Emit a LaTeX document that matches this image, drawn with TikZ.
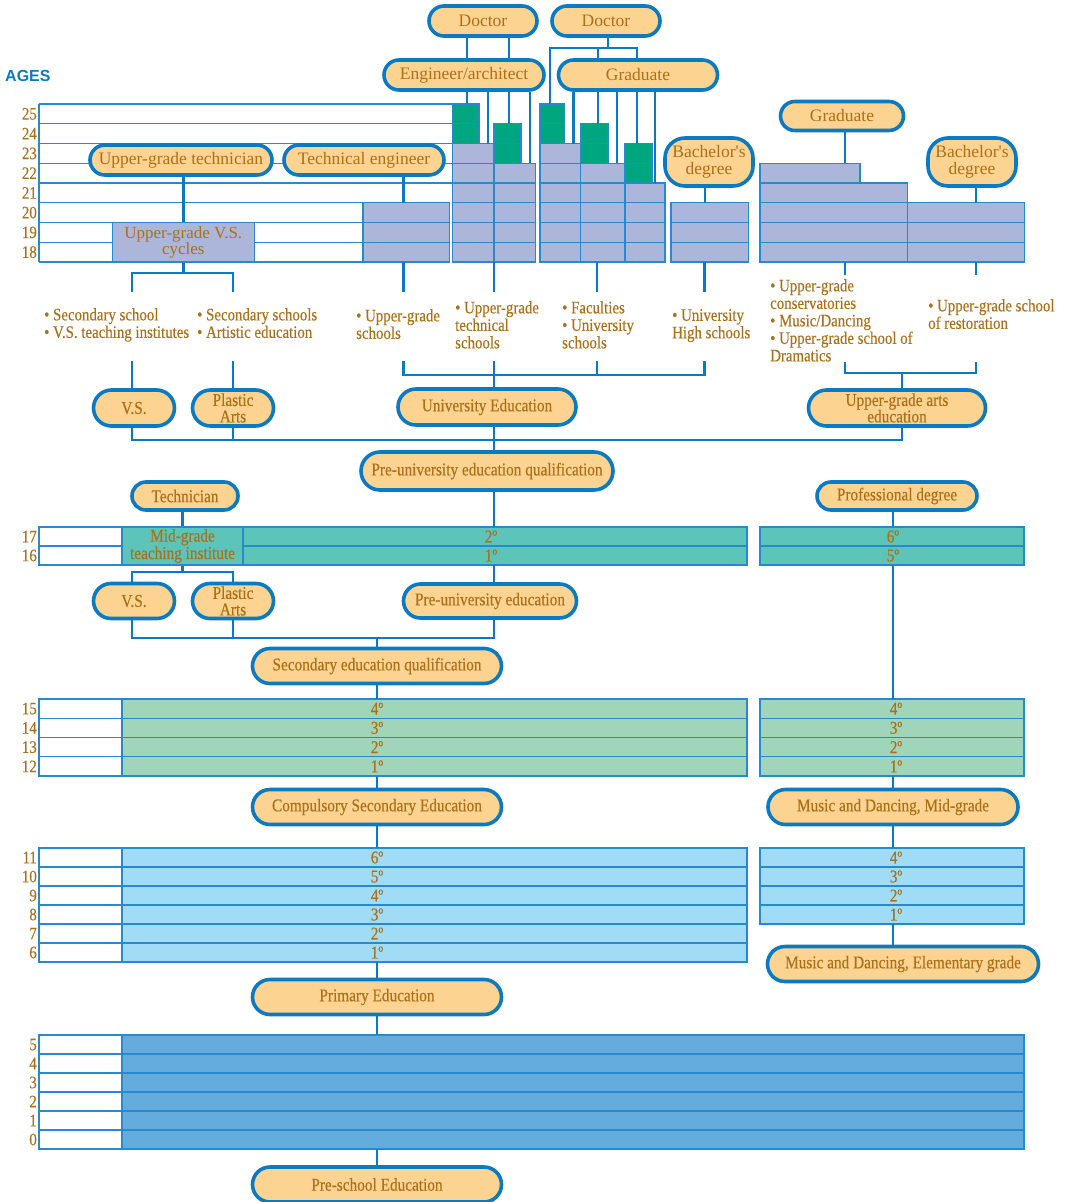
\documentclass[tikz,border=0pt]{standalone}
\usepackage{fontspec}
\setmainfont{Liberation Serif}
\setsansfont{Liberation Sans}
\newfontfamily\condf[FakeStretch=0.85, FakeBold=0.3]{Liberation Serif}
\usetikzlibrary{shapes.misc}

\definecolor{lineblue}{RGB}{10,122,194}
\definecolor{cellblue}{RGB}{40,138,206}
\definecolor{pillfill}{RGB}{253,211,146}
\definecolor{txtbrown}{RGB}{172,112,24}
\definecolor{lavfill}{RGB}{171,182,218}
\definecolor{greenfill}{RGB}{0,166,128}
\definecolor{tealfill}{RGB}{92,196,185}
\definecolor{mintfill}{RGB}{160,213,186}
\definecolor{skyfill}{RGB}{161,220,247}
\definecolor{midbluefill}{RGB}{100,172,222}

\tikzset{
  pill/.style={rounded rectangle, draw=lineblue, line width=3.6pt, fill=pillfill,
    text=txtbrown, inner sep=0pt, align=center,
    font=\condf\fontsize{18}{16.5}\selectfont},
  toppill/.style={pill, font=\fontsize{17.5}{17}\selectfont},
  degbox/.style={rectangle, rounded corners=20pt, draw=lineblue, line width=3.6pt,
    fill=pillfill, text=txtbrown, inner sep=0pt, align=center,
    minimum width=88pt, minimum height=48pt, font=\fontsize{17.5}{17}\selectfont},
  cellline/.style={draw=cellblue, line width=1.2pt},
  cellbox/.style={cellline, text=txtbrown, inner sep=0pt, align=center},
  conn/.style={draw=lineblue, line width=2.4pt},
  agelbl/.style={text=txtbrown, anchor=east, inner sep=0pt,
    font=\condf\fontsize{17.5}{17.5}\selectfont},
  yearlbl/.style={text=txtbrown, inner sep=0pt, font=\condf\fontsize{18}{18}\selectfont},
  note/.style={text=txtbrown, anchor=north west, align=left, inner sep=0pt,
    font=\condf\fontsize{17.5}{17.5}\selectfont}
}

\newcommand\cellstack[6]{%
  \foreach \k in {1,...,#4}
    \draw[cellline, fill=#6] (#1,{#3+(\k-1)*#5}) rectangle (#2,{#3+\k*#5});}

\begin{document}
\begin{tikzpicture}[x=1pt, y=-1pt]
  \useasboundingbox (0,0) rectangle (1070,1202);

  \node[text=lineblue, anchor=west, inner sep=0pt,
    font=\sffamily\bfseries\fontsize{16}{16}\selectfont] (ages) at (5,76) {AGES};

  % ages 25 to 18
  \foreach \a [count=\i from 0] in {25,24,...,18}
    \node[agelbl] (age\a) at (37,{104+(\i+0.5)*19.75}) {\a};
  \foreach \i in {0,...,4}
    \draw[cellline] (39,{104+\i*19.75}) -- (452.7,{104+\i*19.75});
  \foreach \i in {5,...,8}
    \draw[cellline] (39,{104+\i*19.75}) -- (363,{104+\i*19.75});
  \draw[cellline] (39,104) -- (39,262);

  \cellstack{363}{449.3}{202.75}{3}{19.75}{lavfill}
  \cellstack{452.7}{494}{143.5}{6}{19.75}{lavfill}
  \cellstack{452.7}{479}{104}{2}{19.75}{greenfill}
  \cellstack{494}{535.3}{163.25}{5}{19.75}{lavfill}
  \cellstack{494}{521}{123.75}{2}{19.75}{greenfill}
  \cellstack{540}{580.7}{143.5}{6}{19.75}{lavfill}
  \cellstack{540}{564.3}{104}{2}{19.75}{greenfill}
  \cellstack{580.7}{625}{163.25}{5}{19.75}{lavfill}
  \cellstack{581}{608}{123.75}{2}{19.75}{greenfill}
  \cellstack{625}{665}{183}{4}{19.75}{lavfill}
  \cellstack{625}{652}{143.5}{2}{19.75}{greenfill}
  \cellstack{671}{748.3}{202.75}{3}{19.75}{lavfill}
  \cellstack{760}{860}{163.25}{1}{19.75}{lavfill}
  \cellstack{760}{907.7}{183}{4}{19.75}{lavfill}
  \cellstack{907.7}{1024.3}{202.75}{3}{19.75}{lavfill}

  \node[cellbox, fill=lavfill, minimum width=142pt, minimum height=39.5pt,
    font=\fontsize{17}{16}\selectfont] (vscyc) at (183.3,242.25) {Upper-grade V.S.\\cycles};

  % ages 17 and 16
  \foreach \a/\i in {17/0,16/1}
    \node[agelbl] (age\a) at (37,{527+(\i+0.5)*19}) {\a};
  \cellstack{39}{122}{527}{2}{19}{white}
  \cellstack{243}{747}{527}{2}{19}{tealfill}
  \cellstack{760}{1024}{527}{2}{19}{tealfill}
  \node[cellbox, fill=tealfill, minimum width=121pt, minimum height=38pt,
    font=\condf\fontsize{18}{15.5}\selectfont] (midg) at (182.5,546) {Mid-grade\\teaching institute};
  \foreach \yr/\i in {2/0,1/1}
    \node[yearlbl] (bl\yr) at (491,{527+(\i+0.5)*19}) {\yr{}º};
  \foreach \yr/\i in {6/0,5/1}
    \node[yearlbl] (br\yr) at (893,{527+(\i+0.5)*19}) {\yr{}º};

  % ages 15 to 12
  \foreach \a [count=\i from 0] in {15,14,13,12}
    \node[agelbl] (age\a) at (37,{699+(\i+0.5)*19.25}) {\a};
  \cellstack{39}{122}{699}{4}{19.25}{white}
  \cellstack{122}{747}{699}{4}{19.25}{mintfill}
  \cellstack{760}{1024}{699}{4}{19.25}{mintfill}
  \foreach \yr [count=\i from 0] in {4,3,2,1}{
    \node[yearlbl] (cl\yr) at (377,{699+(\i+0.5)*19.25}) {\yr{}º};
    \node[yearlbl] (cr\yr) at (896,{699+(\i+0.5)*19.25}) {\yr{}º};
  }

  % ages 11 to 6
  \foreach \a [count=\i from 0] in {11,10,...,6}
    \node[agelbl] (age\a) at (37,{848+(\i+0.5)*19}) {\a};
  \cellstack{39}{122}{848}{6}{19}{white}
  \cellstack{122}{747}{848}{6}{19}{skyfill}
  \cellstack{760}{1024}{848}{4}{19}{skyfill}
  \foreach \yr [count=\i from 0] in {6,5,4,3,2,1}
    \node[yearlbl] (dl\yr) at (377,{848+(\i+0.5)*19}) {\yr{}º};
  \foreach \yr [count=\i from 0] in {4,3,2,1}
    \node[yearlbl] (dr\yr) at (896,{848+(\i+0.5)*19}) {\yr{}º};

  % ages 5 to 0
  \foreach \a [count=\i from 0] in {5,4,...,0}
    \node[agelbl] (age\a) at (37,{1035+(\i+0.5)*19}) {\a};
  \cellstack{39}{122}{1035}{6}{19}{white}
  \cellstack{122}{1024}{1035}{6}{19}{midbluefill}

  % degrees
  \node[toppill, minimum width=108pt, minimum height=30pt] (doc1) at (483,21) {Doctor};
  \node[toppill, minimum width=108pt, minimum height=30pt] (doc2) at (606,21) {Doctor};
  \node[toppill, minimum width=160pt, minimum height=30pt] (engarch) at (464,75) {Engineer/architect};
  \node[toppill, minimum width=159pt, minimum height=30pt] (gradtop) at (638,75) {Graduate};
  \node[toppill, minimum width=182pt, minimum height=30pt] (ugtech) at (181,160) {Upper-grade technician};
  \node[toppill, minimum width=160pt, minimum height=30pt] (techeng) at (364,160) {Technical engineer};
  \node[degbox] (bach1) at (709,162) {Bachelor\textquotesingle s\\degree};
  \node[toppill, minimum width=123pt, minimum height=29pt] (gradart) at (842,116) {Graduate};
  \node[degbox] (bach2) at (972,162) {Bachelor\textquotesingle s\\degree};

  % schools
  \node[note] (n1) at (44,308) {• Secondary school\\• V.S. teaching institutes};
  \node[note] (n2) at (197,308) {• Secondary schools\\• Artistic education};
  \node[note] (n3) at (356,309) {• Upper-grade\\schools};
  \node[note] (n4) at (455,301) {• Upper-grade\\technical\\schools};
  \node[note] (n5) at (562,301) {• Faculties\\• University\\schools};
  \node[note] (n6) at (672,309) {• University\\High schools};
  \node[note] (n7) at (770,279) {• Upper-grade\\conservatories\\• Music/Dancing\\• Upper-grade school of\\Dramatics};
  \node[note] (n8) at (928,299) {• Upper-grade school\\of restoration};

  % stages
  \node[pill, minimum width=81pt, minimum height=36pt] (vs1) at (134,408) {V.S.};
  \node[pill, minimum width=81pt, minimum height=36pt] (pa1) at (233,408) {Plastic\\Arts};
  \node[pill, minimum width=178pt, minimum height=36pt] (unied) at (487,407) {University Education};
  \node[pill, minimum width=177pt, minimum height=36pt] (artsed) at (897,408) {Upper-grade arts\\education};
  \node[pill, minimum width=252pt, minimum height=38pt] (puq) at (487,471)
    {\makebox[0pt]{Pre-university education qualification}};
  \node[pill, minimum width=106pt, minimum height=28pt] (tech) at (185,496) {Technician};
  \node[pill, minimum width=160pt, minimum height=28pt] (profdeg) at (897,496) {Professional degree};
  \node[pill, minimum width=81pt, minimum height=35pt] (vs2) at (134,601) {V.S.};
  \node[pill, minimum width=81pt, minimum height=35pt] (pa2) at (233,601) {Plastic\\Arts};
  \node[pill, minimum width=173pt, minimum height=34pt] (pue) at (490,601) {Pre-university education};
  \node[pill, minimum width=249pt, minimum height=35pt] (seq) at (377,666) {Secondary education qualification};
  \node[pill, minimum width=249pt, minimum height=35pt] (cse) at (377,807) {Compulsory Secondary Education};
  \node[pill, minimum width=250pt, minimum height=35pt] (mdmid) at (893,807) {Music and Dancing, Mid-grade};
  \node[pill, minimum width=271pt, minimum height=35pt] (mdel) at (903,964)
    {\makebox[0pt]{Music and Dancing, Elementary grade}};
  \node[pill, minimum width=249pt, minimum height=35pt] (prim) at (377,997) {Primary Education};
  \node[pill, minimum width=249pt, minimum height=35pt] (presch) at (377,1184.5) {Pre-school Education};

  % connectors, top
  \coordinate (gA) at (466.7,104);
  \coordinate (lA) at (487.7,143.5);
  \coordinate (gB) at (508.7,123.75);
  \coordinate (lB) at (530,163.25);
  \coordinate (gC) at (550,104);
  \coordinate (lC) at (573.3,143.5);
  \coordinate (gD) at (597.7,123.75);
  \coordinate (lD) at (616.7,163.25);
  \coordinate (gE) at (636.7,143.5);
  \coordinate (lE) at (655,183);
  \coordinate (d2) at (608,48);

  \draw[conn] (doc1.south -| gA) -- (engarch.north -| gA);
  \draw[conn] (doc1.south -| gB) -- (engarch.north -| gB);
  \draw[conn] (doc2.south -| d2) -- (d2);
  \draw[conn] (gC) -- (gC |- d2) -- (gE |- d2) -- (gradtop.north -| gE);
  \draw[conn] (gD |- d2) -- (gradtop.north -| gD);
  \foreach \c in {gA,lA,gB,lB}
    \draw[conn] (engarch.south -| \c) -- (\c);
  \foreach \c in {lC,gD,lD,gE,lE}
    \draw[conn] (gradtop.south -| \c) -- (\c);

  \coordinate (te) at (403.3,202.75);
  \coordinate (b1) at (705,202.75);
  \coordinate (ga) at (845,163.25);
  \coordinate (b2) at (975.7,202.75);
  \draw[conn] (techeng.south -| te) -- (te);
  \draw[conn] (bach1.south -| b1) -- (b1);
  \draw[conn] (gradart.south -| ga) -- (ga);
  \draw[conn] (bach2.south -| b2) -- (b2);
  \draw[conn] (ugtech.south -| vscyc.north) -- (vscyc.north);

  % connectors round the schools
  \coordinate (bot) at (0,262);
  \foreach \n/\x in {sa/132,sb/233,sc/403.3,sd/494,se/596.7,sf/704.3}{
    \coordinate (\n1) at (\x,292);
    \coordinate (\n2) at (\x,361);
  }
  \coordinate (vsf) at (183.3,273);
  \draw[conn] (vscyc.south) -- (vsf);
  \draw[conn] (sa1) -- (sa1 |- vsf) -- (sb1 |- vsf) -- (sb1);
  \draw[conn] (sa2) -- (vs1.north -| sa2);
  \draw[conn] (sb2) -- (pa1.north -| sb2);

  \coordinate (ub) at (494,375);
  \foreach \n in {sc,sd,se,sf}
    \draw[conn] (\n1 |- bot) -- (\n1);
  \draw[conn] (sc2) -- (sc2 |- ub) -- (sf2 |- ub) -- (sf2);
  \draw[conn] (se2) -- (se2 |- ub);
  \draw[conn] (sd2) -- (unied.north -| sd2);

  \coordinate (ar1) at (845,275);
  \coordinate (ar2) at (975.7,275);
  \coordinate (ar3) at (845,362);
  \coordinate (ar4) at (975.7,362);
  \coordinate (af) at (902,373);
  \draw[conn] (ar1 |- bot) -- (ar1);
  \draw[conn] (ar2 |- bot) -- (ar2);
  \draw[conn] (ar3) -- (ar3 |- af) -- (ar4 |- af) -- (ar4);
  \draw[conn] (af) -- (artsed.north -| af);

  \coordinate (hl) at (0,440);
  \draw[conn] (vs1.south -| sa2) -- (sa2 |- hl) -- (af |- hl) -- (artsed.south -| af);
  \draw[conn] (pa1.south -| sb2) -- (sb2 |- hl);
  \draw[conn] (unied.south -| sd2) -- (puq.north -| sd2);

  % connectors, lower stages
  \coordinate (tB) at (0,527);
  \coordinate (bB) at (0,565);
  \coordinate (pd) at (893,527);
  \coordinate (mgf) at (182.5,572);
  \coordinate (sqf) at (377,638);
  \coordinate (tC) at (377,699);
  \coordinate (bC) at (0,776);
  \coordinate (tD) at (0,848);
  \coordinate (bDr) at (893,924);
  \coordinate (bD) at (0,962);
  \coordinate (tE) at (0,1035);
  \coordinate (bE) at (0,1149);

  \draw[conn] (puq.south -| sd2) -- (sd2 |- tB);
  \draw[conn] (tech.south -| midg.north) -- (midg.north);
  \draw[conn] (profdeg.south -| pd) -- (pd);
  \draw[conn] (midg.south) -- (mgf);
  \draw[conn] (vs2.north -| sa2) -- (sa2 |- mgf) -- (sb2 |- mgf) -- (pa2.north -| sb2);
  \draw[conn] (sd2 |- bB) -- (pue.north -| sd2);
  \draw[conn] (vs2.south -| sa2) -- (sa2 |- sqf) -- (sd2 |- sqf) -- (pue.south -| sd2);
  \draw[conn] (pa2.south -| sb2) -- (sb2 |- sqf);
  \draw[conn] (sqf) -- (seq.north);
  \draw[conn] (seq.south) -- (tC);
  \draw[conn] (pd |- bB) -- (pd |- tC);
  \draw[conn] (tC |- bC) -- (cse.north);
  \draw[conn] (cse.south) -- (cse.south |- tD);
  \draw[conn] (pd |- bC) -- (mdmid.north -| pd);
  \draw[conn] (mdmid.south -| pd) -- (pd |- tD);
  \draw[conn] (bDr) -- (mdel.north -| bDr);
  \draw[conn] (tC |- bD) -- (prim.north);
  \draw[conn] (prim.south) -- (prim.south |- tE);
  \draw[conn] (tC |- bE) -- (presch.north);
\end{tikzpicture}
\end{document}
